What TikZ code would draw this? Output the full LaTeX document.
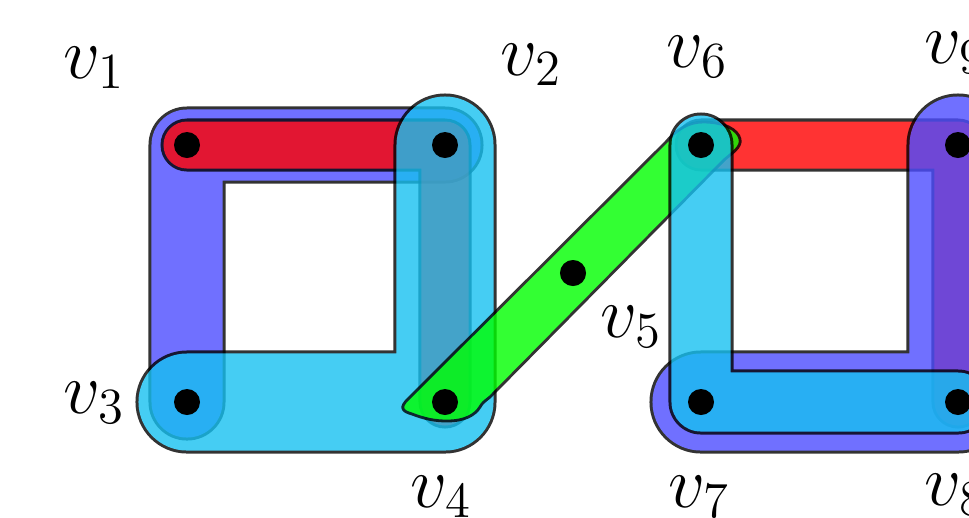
\documentclass[tikz,border=0pt]{standalone}
\usetikzlibrary{calc}
\definecolor{hred}{RGB}{255,0,0}
\definecolor{hgreen}{RGB}{0,255,0}
\definecolor{hblue}{RGB}{76,76,255}
\definecolor{hcyan}{RGB}{22,192,240}
\tikzset{
  vdot/.style={circle, fill=black, minimum size=0.26cm, inner sep=0pt},
  vlabel/.style={anchor=base west, inner sep=0pt, font=\fontsize{22}{26}\selectfont},
  hout/.style={draw=black, line cap=round, line join=round, line width=#1},
  hin/.style={line cap=round, line join=round, line width=#1},
}
\newcommand{\hyperedge}[4]{%
  \begin{scope}[transparency group, opacity=0.8]
    \draw[hout=#2] #4;
    \draw[hin=#3, draw=#1] #4;
  \end{scope}}
\begin{document}
\begin{tikzpicture}[x=0.01cm, y=-0.01cm]
\useasboundingbox (0,0) rectangle (969,517);
\clip (0,0) rectangle (969,517);
% vertices
\node[vdot] (v1) at (187,145) {};
\node[vdot] (v2) at (445,145) {};
\node[vdot] (v3) at (187,402) {};
\node[vdot] (v4) at (445,402) {};
\node[vdot] (v5) at (573,273) {};
\node[vdot] (v6) at (701,145) {};
\node[vdot] (v7) at (701,402) {};
\node[vdot] (v8) at (958,402) {};
\node[vdot] (v9) at (958,145) {};
% hyperedges, left square
\hyperedge{hblue}{0.77cm}{0.71cm}{(v3.center) -- (v1.center) -- (v2.center)}
\hyperedge{hred}{0.53cm}{0.47cm}{(v1.center) -- (v2.center) -- (v4.center)}
\hyperedge{hcyan}{1.03cm}{0.97cm}{(v2.center) -- (v4.center) -- (v3.center)}
% right red
\hyperedge{hred}{0.53cm}{0.47cm}{(v6.center) -- (v9.center) -- (v8.center)}
% green hyperedge v4 v5 v6
\begin{scope}[transparency group, opacity=0.8]
  \draw[black, line width=0.028cm, fill=hgreen, line join=round]
    (408,399) .. controls (400,407) and (401,411) .. (412,414)
    .. controls (425,419) and (435,421) .. (447,421)
    .. controls (465,421) and (475,415) .. (480,407)
    .. controls (482,403) and (485,401) .. (490,397)
    -- (724,160)
    .. controls (732,153) and (742,147) .. (740,139)
    .. controls (738,130) and (725,122) .. (703,122)
    .. controls (688,122) and (676,130) .. (666,142)
    -- cycle;
\end{scope}
% right blue and cyan
\hyperedge{hblue}{1.03cm}{0.97cm}{(v7.center) -- (v8.center) -- (v9.center)}
\hyperedge{hcyan}{0.65cm}{0.59cm}{(v6.center) -- (v7.center) -- (v8.center)}
% dots on top
\foreach \v in {v1,v2,v3,v4,v5,v6,v7,v8,v9}
  \fill[black] (\v) circle[radius=13];
% labels
\node[vlabel] (l1) at (63,78) {$v_1$};
\node[vlabel] (l2) at (500,75) {$v_2$};
\node[vlabel] (l3) at (63,413) {$v_3$};
\node[vlabel] (l4) at (410,507) {$v_4$};
\node[vlabel] (l5) at (600,337) {$v_5$};
\node[vlabel] (l6) at (666,67) {$v_6$};
\node[vlabel] (l7) at (668,507) {$v_7$};
\node[vlabel] (l8) at (924,505) {$v_8$};
\node[vlabel] (l9) at (924,63) {$v_9$};
\end{tikzpicture}
\end{document}
